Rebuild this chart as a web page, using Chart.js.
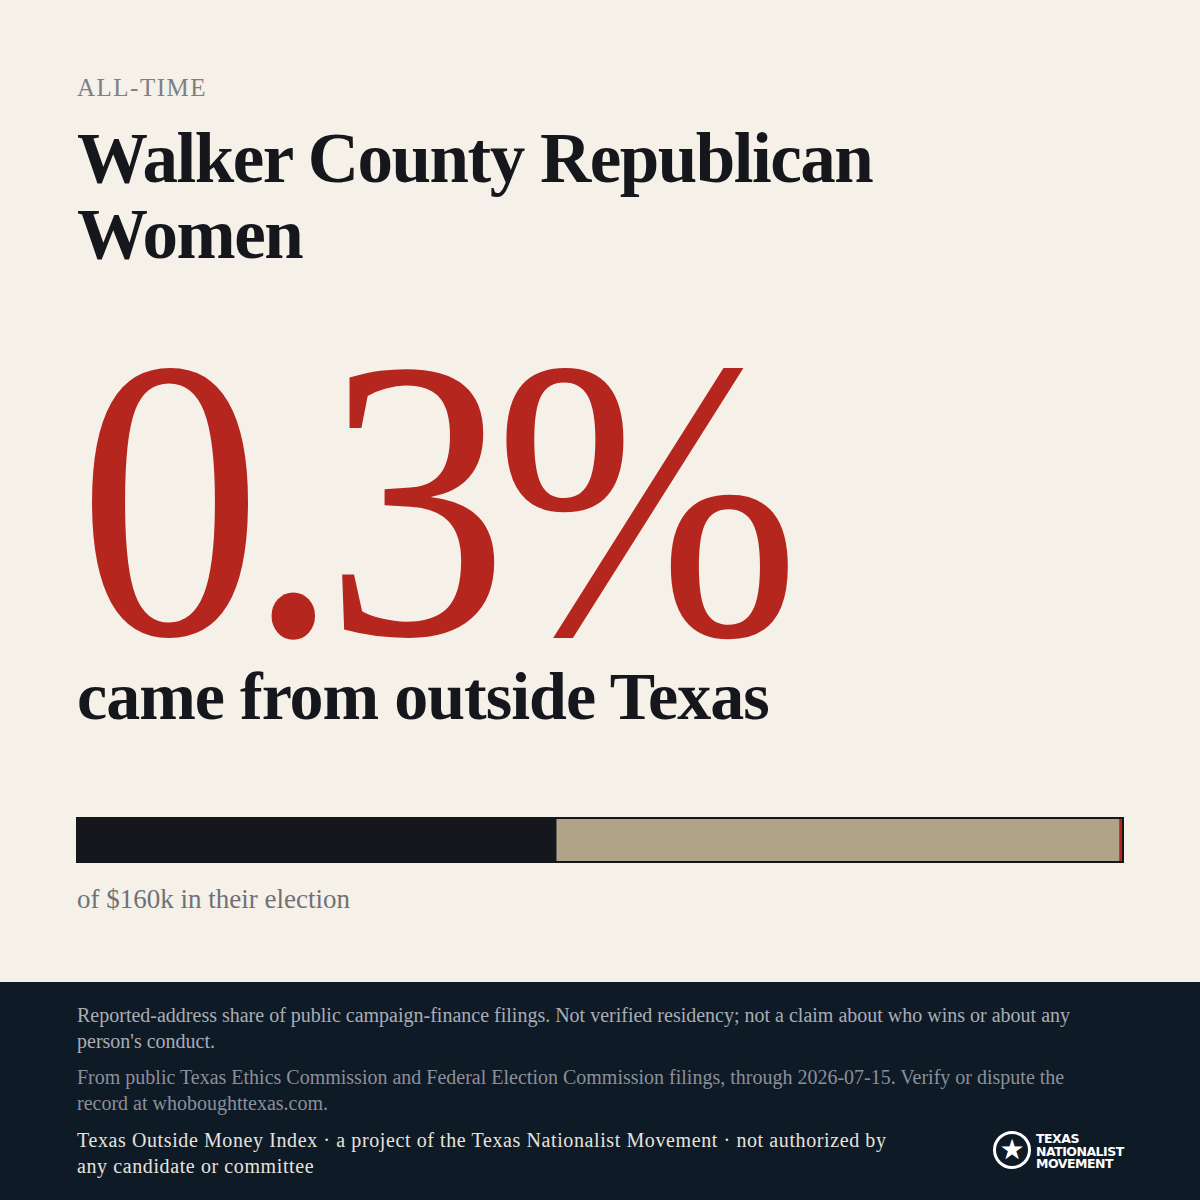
<!DOCTYPE html>
<html><head><meta charset="utf-8">
<script src="https://cdn.jsdelivr.net/npm/chart.js@4"></script>
<style>
body{margin:0;width:1200px;height:1200px;background:#f5f0e8;font-family:"Liberation Serif",serif;position:relative;overflow:hidden;color:#15171c}
.a{position:absolute;left:77px}
#kick{top:74px;font-size:25px;letter-spacing:1.5px;color:#7d7f84}
#title{top:120px;font-size:71px;line-height:76px;font-weight:bold;letter-spacing:-1.5px}
#big{top:350px;left:78px;font-size:400px;line-height:300px;color:#b5261f;letter-spacing:-16px;transform:scaleX(0.92);transform-origin:left top}
#sub{top:660px;font-size:68px;line-height:72px;font-weight:bold;letter-spacing:-1px}
#wrap{position:absolute;left:76px;top:817px;width:1048px;height:46px;background:#15171c}
#of{top:884px;font-size:27px;color:#6f7177}
#foot{position:absolute;left:0;top:982px;width:1200px;height:218px;background:#0f1a27}
.f{position:absolute;left:77px;font-size:20px;line-height:26px;width:1030px}
#logo{position:absolute;left:993px;top:149px;color:#fff;font-family:"DejaVu Sans";font-weight:bold;font-size:12.5px;line-height:12.5px}
#logo .c{position:absolute;left:0;top:0;width:38px;height:38px;border:3px solid #fff;border-radius:50%;box-sizing:border-box;text-align:center;font-size:28px;line-height:32px}
#logo .t{position:absolute;left:43px;top:2px;white-space:nowrap;letter-spacing:-0.5px}
</style></head><body>
<div class="a" id="kick">ALL-TIME</div>
<div class="a" id="title">Walker County Republican<br>Women</div>
<div class="a" id="big">0.3%</div>
<div class="a" id="sub">came from outside Texas</div>
<div id="wrap"><canvas id="c"></canvas></div>
<div class="a" id="of">of $160k in their election</div>
<div id="foot">
<div class="f" style="top:20px;color:#a9adb4">Reported-address share of public campaign-finance filings. Not verified residency; not a claim about who wins or about any person's conduct.</div>
<div class="f" style="top:82px;color:#8b9099">From public Texas Ethics Commission and Federal Election Commission filings, through 2026-07-15. Verify or dispute the record at whoboughttexas.com.</div>
<div class="f" style="top:145px;color:#e6e3dc;width:900px;letter-spacing:0.6px">Texas Outside Money Index · a project of the Texas Nationalist Movement · not authorized by<br>any candidate or committee</div>
<div id="logo"><div class="c">★</div><div class="t">TEXAS<br>NATIONALIST<br>MOVEMENT</div></div>
</div>
<script>
const segments = ['In-district', 'Elsewhere in Texas', 'Outside Texas'];
const shares = [45.8, 53.9, 0.3];
const colors = ['#15171c', '#b0a488', '#b5261f'];
new Chart(document.getElementById('c'), {
  type: 'bar',
  data: {
    labels: ['Total'],
    datasets: segments.map((s, i) => ({
      label: s, data: [shares[i]], backgroundColor: colors[i],
      barPercentage: 1, categoryPercentage: 1, borderWidth: 0, minBarLength: i == 2 ? 5 : 0
    }))
  },
  options: {
    indexAxis: 'y', responsive: true, maintainAspectRatio: false, animation: false,
    layout: { padding: 2 },
    plugins: { legend: { display: false }, tooltip: { enabled: false } },
    scales: {
      x: { stacked: true, display: false, min: 0, max: 100 },
      y: { stacked: true, display: false }
    }
  }
});
</script>
</body></html>
